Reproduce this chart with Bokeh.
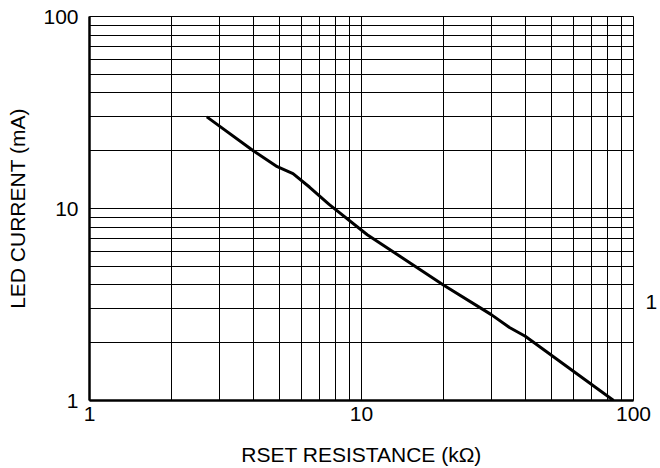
from bokeh.plotting import figure
from bokeh.models import FixedTicker, LogAxis, ColumnDataSource
from bokeh.embed import file_html
from bokeh.resources import INLINE

# Data
rset_kohm = [2.7, 4.0, 4.9, 5.6, 6.45, 7.6, 10.5, 20.0, 30.0, 35.0, 40.0, 84.5]
led_ma = [30.0, 20.0, 16.5, 15.2, 12.9, 10.5, 7.3, 4.0, 2.8, 2.4, 2.16, 1.0]

major_ticks = [1, 10, 100]
major_labels = ["1", "10", "100"]
minor_ticks = [2, 3, 4, 5, 6, 7, 8, 9, 20, 30, 40, 50, 60, 70, 80, 90]

# stray label shown at the right edge of the reference
right_ticks = [3.24]
right_labels = ["1"]

FONT = "Liberation Sans"
FS = "21px"

p = figure(
    x_axis_type="log", y_axis_type="log",
    x_range=(1, 100), y_range=(1, 100),
    width=660, height=468,
    min_border_left=89, min_border_right=25,
    min_border_top=16, min_border_bottom=68,
    output_backend="svg", toolbar_location=None,
    background_fill_color="white", border_fill_color="white",
)
p.outline_line_color = "black"
p.outline_line_width = 1

for ax in (p.xaxis[0], p.yaxis[0]):
    ax.ticker = FixedTicker(ticks=major_ticks, minor_ticks=minor_ticks)
    ax.major_label_overrides = dict(zip(major_ticks, major_labels))
    ax.major_tick_line_color = None
    ax.minor_tick_line_color = None
    ax.major_tick_out = 0
    ax.major_tick_in = 0
    ax.axis_line_color = "black"
    ax.axis_line_width = 2.5
    ax.major_label_text_font = FONT
    ax.major_label_text_font_size = FS
    ax.major_label_text_color = "black"
    ax.axis_label_text_font = FONT
    ax.axis_label_text_font_size = FS
    ax.axis_label_text_font_style = "normal"
    ax.axis_label_text_color = "black"

p.xaxis.axis_label = "RSET RESISTANCE (kΩ)"
p.yaxis.axis_label = "LED CURRENT (mA)"
p.xaxis.major_label_standoff = 2
p.yaxis.major_label_standoff = 7
p.xaxis.axis_label_standoff = 19
p.yaxis.axis_label_standoff = 11

for g in (p.xgrid[0], p.ygrid[0]):
    g.grid_line_color = "black"
    g.grid_line_width = 1
    g.minor_grid_line_color = "black"
    g.minor_grid_line_width = 1

src = ColumnDataSource(data=dict(x=rset_kohm, y=led_ma))
p.line("x", "y", source=src, line_color="black", line_width=3)

right_axis = LogAxis(
    ticker=FixedTicker(ticks=right_ticks, minor_ticks=[]),
    major_label_overrides=dict(zip(right_ticks, right_labels)),
    axis_line_color=None, major_tick_line_color=None, minor_tick_line_color=None,
    major_tick_out=0, major_tick_in=0, major_label_standoff=12,
    major_label_text_font=FONT, major_label_text_font_size=FS,
    major_label_text_color="black",
)
p.add_layout(right_axis, "right")

open("out.html", "w").write(file_html(p, INLINE))
